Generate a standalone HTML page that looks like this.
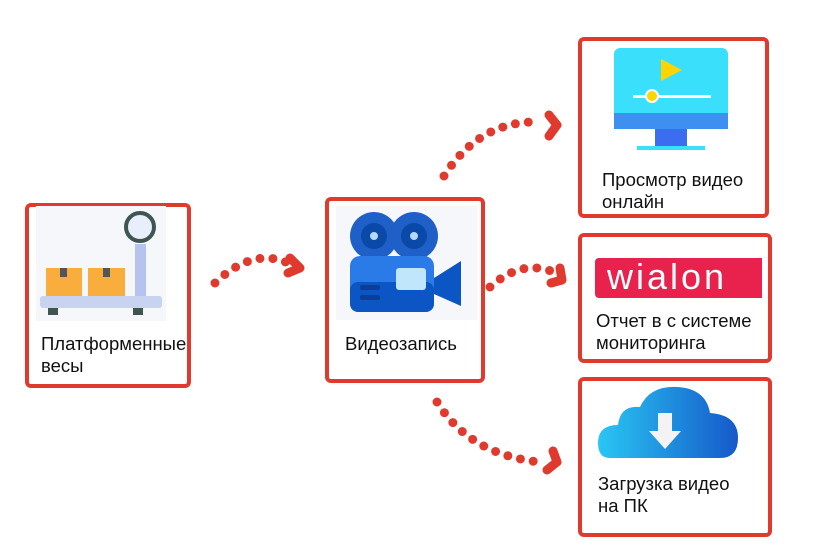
<!DOCTYPE html>
<html><head><meta charset="utf-8"><style>
body{margin:0;width:813px;height:547px;background:#fff;overflow:hidden;position:relative;font-family:"Liberation Sans",sans-serif}
.box{position:absolute;border:4px solid #e03a2f;border-radius:6px;box-sizing:border-box;background:#fff}
.t{position:absolute;font-size:18.5px;line-height:22px;color:#111}
</style></head><body>
<svg width="813" height="547" style="position:absolute;left:0;top:0">
<g fill="none" stroke="#e03a2f" stroke-width="9" stroke-linecap="round" stroke-linejoin="round">
<path d="M215 283 Q255 245 292 265" stroke-dasharray="0 13"/>
<polyline points="290,258 300,268 288,273"/>
<path d="M444 176 Q480 120 540 122" stroke-dasharray="0 13"/>
<polyline points="549,115 557,125 549,136"/>
<path d="M490 287 Q520 260 551 271" stroke-dasharray="0 13"/>
<polyline points="560,268 562,280 551,283"/>
<path d="M437 402 Q470 455 540 462" stroke-dasharray="0 13"/>
<polyline points="553,451 557,462 547,470"/>
</g></svg>

<div class="box" style="left:25px;top:203px;width:166px;height:185px"></div>
<svg style="position:absolute;left:36px;top:206px" width="130" height="115">
<rect width="130" height="115" fill="#f5f7fa"/>
<rect x="99" y="38" width="11" height="62" fill="#b5c3ee"/>
<circle cx="104" cy="21" r="14" fill="#e8eefc" stroke="#3f5552" stroke-width="4"/>
<rect x="10" y="62" width="36" height="28" fill="#f9ad3d"/><rect x="24" y="62" width="7" height="9" fill="#555"/>
<rect x="52" y="62" width="37" height="28" fill="#f9ad3d"/><rect x="67" y="62" width="7" height="9" fill="#555"/>
<rect x="4" y="90" width="122" height="12" rx="3" fill="#c8d3f2"/>
<rect x="12" y="102" width="10" height="7" fill="#3f5552"/><rect x="97" y="102" width="10" height="7" fill="#3f5552"/>
</svg>
<div class="t" style="left:41px;top:333px">Платформенные<br>весы</div>

<div class="box" style="left:325px;top:197px;width:160px;height:186px"></div>
<svg style="position:absolute;left:336px;top:206px" width="141" height="114">
<rect width="141" height="114" fill="#f5f7fa"/>
<circle cx="38" cy="30" r="24" fill="#1f5fc8"/><circle cx="38" cy="30" r="13" fill="#0a49a8"/><circle cx="38" cy="30" r="4" fill="#b5d8ff"/>
<circle cx="78" cy="30" r="24" fill="#1f5fc8"/><circle cx="78" cy="30" r="13" fill="#0a49a8"/><circle cx="78" cy="30" r="4" fill="#b5d8ff"/>
<rect x="14" y="50" width="84" height="56" rx="10" fill="#2a7be8"/>
<rect x="14" y="76" width="84" height="30" rx="8" fill="#0b56c4"/>
<rect x="60" y="62" width="30" height="22" rx="3" fill="#bfe6fb"/>
<rect x="24" y="79" width="20" height="5" rx="2" fill="#0a3f95"/><rect x="24" y="89" width="20" height="5" rx="2" fill="#0a3f95"/>
<polygon points="98,72 125,55 125,100 98,88" fill="#0b56c4"/>
</svg>
<div class="t" style="left:345px;top:333px">Видеозапись</div>

<div class="box" style="left:578px;top:37px;width:191px;height:181px"></div>
<svg style="position:absolute;left:611px;top:45px" width="120" height="108">
<rect x="3" y="3" width="114" height="80" rx="6" fill="#3ae0fb"/>
<rect x="3" y="68" width="114" height="16" fill="#3d8ff0"/>
<rect x="44" y="84" width="32" height="18" fill="#3a6df0"/>
<rect x="26" y="101" width="68" height="4" fill="#3ae0fb"/>
<polygon points="50,14 50,36 71,25" fill="#ffd400"/>
<rect x="22" y="50" width="78" height="3" fill="#fff"/>
<circle cx="41" cy="51" r="6" fill="#ffd400" stroke="#fff" stroke-width="2"/>
</svg>
<div class="t" style="left:602px;top:169px">Просмотр видео<br>онлайн</div>

<div class="box" style="left:578px;top:233px;width:194px;height:130px"></div>
<div style="position:absolute;left:595px;top:258px;width:167px;height:40px;background:#e8214d;border-radius:4px 0 0 4px;color:#fff;font-size:36px;line-height:38px;letter-spacing:3px;text-indent:12px">wialon</div>
<div class="t" style="left:596px;top:310px">Отчет в с системе<br>мониторинга</div>

<div class="box" style="left:578px;top:377px;width:194px;height:160px"></div>
<svg style="position:absolute;left:598px;top:383px" width="142" height="80">
<defs><linearGradient id="g" x1="0" x2="1"><stop offset="0" stop-color="#29c6f4"/><stop offset="1" stop-color="#1659c9"/></linearGradient></defs>
<path d="M12 75 Q0 75 0 60 Q0 42 20 42 Q22 22 42 24 Q52 2 80 4 Q108 6 112 30 Q140 32 140 55 Q140 75 122 75 Z" fill="url(#g)"/>
<polygon points="60,30 74,30 74,48 83,48 67,66 51,48 60,48" fill="#f3f3f3"/>
</svg>
<div class="t" style="left:598px;top:473px">Загрузка видео<br>на ПК</div>
</body></html>
